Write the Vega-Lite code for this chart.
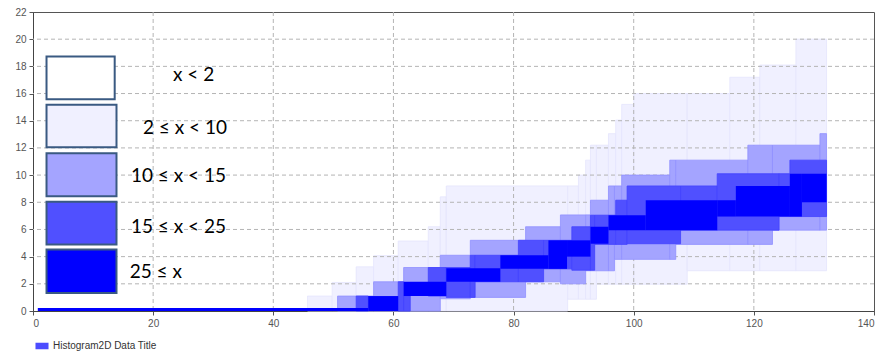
{
  "$schema": "https://vega.github.io/schema/vega-lite/v6.json",
  "width": 841,
  "height": 299,
  "autosize": "none",
  "padding": {"left": 33, "top": 12, "right": 9, "bottom": 43},
  "background": "white",
  "config": {
    "view": {"stroke": "#555555", "strokeWidth": 1},
    "axis": {"grid": false, "labelFont": "Liberation Sans", "labelFontSize": 10, "labelColor": "#555555", "tickColor": "#555555", "tickSize": 4, "domainColor": "#444444", "labelPadding": 3},
    "axisX": {"tickCount": 7},
    "axisY": {"tickCount": 11}
  },
  "datasets": {
    "cells": [
      {"level": "light", "x": 45.7, "x2": 49.8, "y": 0, "y2": 1.1},
      {"level": "light", "x": 49.8, "x2": 53.8, "y": 0, "y2": 2.1},
      {"level": "light", "x": 53.8, "x2": 56.7, "y": 0, "y2": 3.25},
      {"level": "light", "x": 56.7, "x2": 60.8, "y": 0, "y2": 4.07},
      {"level": "light", "x": 60.8, "x2": 65.8, "y": 0, "y2": 5.15},
      {"level": "light", "x": 65.8, "x2": 67.8, "y": 0, "y2": 6.2},
      {"level": "light", "x": 67.8, "x2": 68.8, "y": 0, "y2": 8.4},
      {"level": "light", "x": 68.8, "x2": 89, "y": 0, "y2": 9.2},
      {"level": "light", "x": 89, "x2": 90.8, "y": 0.87, "y2": 9.2},
      {"level": "light", "x": 90.8, "x2": 92, "y": 0.87, "y2": 10},
      {"level": "light", "x": 92, "x2": 92.8, "y": 0.87, "y2": 11.1},
      {"level": "light", "x": 92.8, "x2": 93.8, "y": 0.87, "y2": 12.2},
      {"level": "light", "x": 93.8, "x2": 95.8, "y": 1.97, "y2": 12.2},
      {"level": "light", "x": 95.8, "x2": 97, "y": 1.97, "y2": 13.05},
      {"level": "light", "x": 97, "x2": 98, "y": 1.97, "y2": 14.05},
      {"level": "light", "x": 98, "x2": 100, "y": 1.97, "y2": 15.2},
      {"level": "light", "x": 100, "x2": 108.9, "y": 1.97, "y2": 16},
      {"level": "light", "x": 108.9, "x2": 116, "y": 2.96, "y2": 16},
      {"level": "light", "x": 116, "x2": 121, "y": 2.96, "y2": 17.2},
      {"level": "light", "x": 121, "x2": 127, "y": 2.96, "y2": 18.1},
      {"level": "light", "x": 127, "x2": 132.1, "y": 2.96, "y2": 20},

      {"level": "medium", "x": 50.7, "x2": 56.7, "y": 0, "y2": 1.1},
      {"level": "medium", "x": 56.7, "x2": 61.7, "y": 0, "y2": 2.15},
      {"level": "medium", "x": 61.7, "x2": 67.8, "y": 0, "y2": 3.2},
      {"level": "medium", "x": 67.8, "x2": 72.8, "y": 0.9, "y2": 4.1},
      {"level": "medium", "x": 72.8, "x2": 82, "y": 1.0, "y2": 5.2},
      {"level": "medium", "x": 82, "x2": 87.8, "y": 2.15, "y2": 6.2},
      {"level": "medium", "x": 87.8, "x2": 92, "y": 2.0, "y2": 7.07},
      {"level": "medium", "x": 92, "x2": 92.8, "y": 2.96, "y2": 7.07},
      {"level": "medium", "x": 92.8, "x2": 95.8, "y": 2.96, "y2": 8.15},
      {"level": "medium", "x": 95.8, "x2": 96.8, "y": 2.96, "y2": 9.2},
      {"level": "medium", "x": 96.8, "x2": 98, "y": 3.8, "y2": 9.2},
      {"level": "medium", "x": 98, "x2": 106, "y": 3.8, "y2": 10},
      {"level": "medium", "x": 106, "x2": 107, "y": 3.8, "y2": 11.1},
      {"level": "medium", "x": 107, "x2": 119, "y": 4.9, "y2": 11.1},
      {"level": "medium", "x": 119, "x2": 123.1, "y": 4.9, "y2": 12.2},
      {"level": "medium", "x": 123.1, "x2": 131, "y": 5.95, "y2": 12.2},
      {"level": "medium", "x": 131, "x2": 132.1, "y": 5.95, "y2": 13.05},

      {"level": "dark", "x": 53.8, "x2": 55.8, "y": 0, "y2": 1.1},
      {"level": "dark", "x": 60.8, "x2": 61.7, "y": 0, "y2": 2.15},
      {"level": "dark", "x": 61.7, "x2": 62.8, "y": 0, "y2": 1.1},
      {"level": "dark", "x": 65.8, "x2": 68.8, "y": 1.1, "y2": 3.2},
      {"level": "dark", "x": 68.8, "x2": 72.8, "y": 1.0, "y2": 3.2},
      {"level": "dark", "x": 72.8, "x2": 73.6, "y": 1.0, "y2": 4.1},
      {"level": "dark", "x": 73.6, "x2": 80.8, "y": 2.15, "y2": 4.1},
      {"level": "dark", "x": 80.8, "x2": 85, "y": 2.15, "y2": 5.2},
      {"level": "dark", "x": 85, "x2": 89.7, "y": 3.1, "y2": 5.2},
      {"level": "dark", "x": 89.7, "x2": 92.8, "y": 3.0, "y2": 6.2},
      {"level": "dark", "x": 92.8, "x2": 93.5, "y": 3.0, "y2": 7.05},
      {"level": "dark", "x": 93.5, "x2": 97, "y": 4.9, "y2": 7.05},
      {"level": "dark", "x": 97, "x2": 98.9, "y": 4.9, "y2": 8.15},
      {"level": "dark", "x": 98.9, "x2": 107.8, "y": 4.95, "y2": 9.2},
      {"level": "dark", "x": 107.8, "x2": 113.9, "y": 5.95, "y2": 9.2},
      {"level": "dark", "x": 113.9, "x2": 124.2, "y": 5.95, "y2": 10.1},
      {"level": "dark", "x": 124.2, "x2": 126, "y": 6.95, "y2": 10.1},
      {"level": "dark", "x": 126, "x2": 132.1, "y": 6.95, "y2": 11.1},

      {"level": "full", "x": 0.8, "x2": 55.8, "y": 0, "y2": 0.22},
      {"level": "full", "x": 55.8, "x2": 60.8, "y": 0, "y2": 1.1},
      {"level": "full", "x": 61.7, "x2": 68.8, "y": 1.1, "y2": 2.15},
      {"level": "full", "x": 68.8, "x2": 77.8, "y": 2.15, "y2": 3.15},
      {"level": "full", "x": 77.8, "x2": 85.8, "y": 3.1, "y2": 4.1},
      {"level": "full", "x": 85.8, "x2": 88.9, "y": 3.1, "y2": 5.2},
      {"level": "full", "x": 88.9, "x2": 92.8, "y": 4.0, "y2": 5.2},
      {"level": "full", "x": 92.8, "x2": 95.8, "y": 4.95, "y2": 6.2},
      {"level": "full", "x": 95.8, "x2": 102, "y": 5.95, "y2": 7.05},
      {"level": "full", "x": 102, "x2": 113.9, "y": 5.95, "y2": 8.15},
      {"level": "full", "x": 113.9, "x2": 117, "y": 6.95, "y2": 8.15},
      {"level": "full", "x": 117, "x2": 126, "y": 6.95, "y2": 9.2},
      {"level": "full", "x": 126, "x2": 128, "y": 6.95, "y2": 10.1},
      {"level": "full", "x": 128, "x2": 132.1, "y": 8.0, "y2": 10.1}
    ],
    "gridx": [{"v": 20}, {"v": 40}, {"v": 60}, {"v": 80}, {"v": 100}, {"v": 120}],
    "gridy": [{"v": 2}, {"v": 4}, {"v": 6}, {"v": 8}, {"v": 10}, {"v": 12}, {"v": 14}, {"v": 16}, {"v": 18}, {"v": 20}],
    "boxes": [
      {"level": "x < 2", "x": 2.25, "x2": 13.6, "y": 15.58, "y2": 18.73},
      {"level": "2 ≤ x < 10", "x": 2.25, "x2": 13.9, "y": 12.04, "y2": 15.17},
      {"level": "10 ≤ x < 15", "x": 2.25, "x2": 13.9, "y": 8.45, "y2": 11.61},
      {"level": "15 ≤ x < 25", "x": 2.25, "x2": 13.9, "y": 4.89, "y2": 8.03},
      {"level": "25 ≤ x", "x": 2.25, "x2": 13.9, "y": 1.32, "y2": 4.52}
    ],
    "labels": [
      {"label": "x < 2", "x": 23.3, "y": 17.4},
      {"label": "2 ≤ x < 10", "x": 18.3, "y": 13.5},
      {"label": "10 ≤ x < 15", "x": 16.3, "y": 9.96},
      {"label": "15 ≤ x < 25", "x": 16.3, "y": 6.16},
      {"label": "25 ≤ x", "x": 16.1, "y": 2.86}
    ]
  },
  "layer": [
    {
      "data": {"name": "cells"},
      "transform": [{"filter": "datum.level === 'light'"}],
      "mark": {"type": "rect", "fill": "#f0f0ff", "stroke": "#e4e4fc", "strokeWidth": 0.8},
      "encoding": {
        "x": {"field": "x", "type": "quantitative", "scale": {"domain": [0, 140], "nice": false}, "title": null},
        "x2": {"field": "x2"},
        "y": {"field": "y", "type": "quantitative", "scale": {"domain": [0, 22], "nice": false}, "title": null},
        "y2": {"field": "y2"}
      }
    },
    {
      "data": {"name": "gridx"},
      "mark": {"type": "rule", "stroke": "#b4b4b4", "strokeDash": [4, 3], "strokeWidth": 1},
      "encoding": {"x": {"field": "v", "type": "quantitative", "title": null}}
    },
    {
      "data": {"name": "gridy"},
      "mark": {"type": "rule", "stroke": "#b4b4b4", "strokeDash": [4, 3], "strokeWidth": 1},
      "encoding": {"y": {"field": "v", "type": "quantitative", "title": null}}
    },
    {
      "data": {"name": "cells"},
      "transform": [{"filter": "datum.level === 'medium'"}],
      "mark": {"type": "rect", "fill": "#a4a4ff", "stroke": "#9090ff", "strokeWidth": 0.8},
      "encoding": {
        "x": {"field": "x", "type": "quantitative", "title": null},
        "x2": {"field": "x2"},
        "y": {"field": "y", "type": "quantitative", "title": null},
        "y2": {"field": "y2"}
      }
    },
    {
      "data": {"name": "cells"},
      "transform": [{"filter": "datum.level === 'dark'"}],
      "mark": {"type": "rect", "fill": "#5050ff", "stroke": "#4242ff", "strokeWidth": 0.8},
      "encoding": {
        "x": {"field": "x", "type": "quantitative", "title": null},
        "x2": {"field": "x2"},
        "y": {"field": "y", "type": "quantitative", "title": null},
        "y2": {"field": "y2"}
      }
    },
    {
      "data": {"name": "cells"},
      "transform": [{"filter": "datum.level === 'full'"}],
      "mark": {"type": "rect", "strokeWidth": 0},
      "encoding": {
        "x": {"field": "x", "type": "quantitative", "title": null},
        "x2": {"field": "x2"},
        "y": {"field": "y", "type": "quantitative", "title": null},
        "y2": {"field": "y2"},
        "fill": {
          "datum": "Histogram2D Data Title",
          "scale": {"range": ["#0000ff"]},
          "legend": {
            "orient": "none", "legendX": 2, "legendY": 327, "title": null,
            "symbolType": "M-1,-0.5H1V0.5H-1Z", "symbolSize": 170, "symbolOpacity": 0.7, "symbolStrokeWidth": 0,
            "labelFont": "Liberation Sans", "labelFontSize": 10, "labelColor": "#333333", "labelOffset": 4
          }
        }
      }
    },
    {
      "data": {"name": "boxes"},
      "mark": {"type": "rect", "stroke": "#3a5a82", "strokeWidth": 2},
      "encoding": {
        "x": {"field": "x", "type": "quantitative", "title": null},
        "x2": {"field": "x2"},
        "y": {"field": "y", "type": "quantitative", "title": null},
        "y2": {"field": "y2"},
        "fill": {
          "field": "level", "type": "nominal",
          "scale": {"domain": ["x < 2", "2 ≤ x < 10", "10 ≤ x < 15", "15 ≤ x < 25", "25 ≤ x"], "range": ["#ffffff", "#f0f0ff", "#a4a4ff", "#5050ff", "#0000ff"]},
          "legend": null
        }
      }
    },
    {
      "data": {"name": "labels"},
      "mark": {"type": "text", "align": "left", "baseline": "middle", "font": "Lato", "fontSize": 19, "fill": "#000000"},
      "encoding": {
        "x": {"field": "x", "type": "quantitative", "title": null},
        "y": {"field": "y", "type": "quantitative", "title": null},
        "text": {"field": "label"}
      }
    }
  ],
  "resolve": {"scale": {"fill": "independent"}}
}
